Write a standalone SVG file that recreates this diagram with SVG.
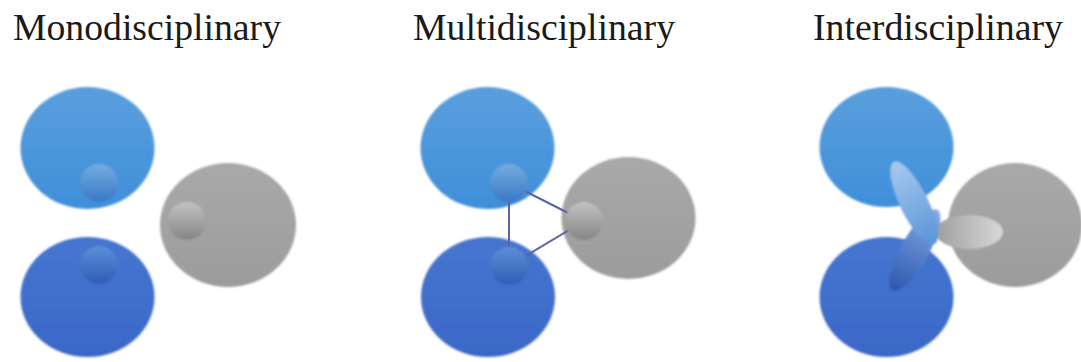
<svg xmlns="http://www.w3.org/2000/svg" width="1081" height="362" viewBox="0 0 1081 362">
  <style>
    .title { font-family: "Liberation Serif", "DejaVu Serif", serif; font-size: 38px; fill: #1a1a1a; }
    .soft { filter: url(#soften); }
    .link { stroke: #5b63a6; stroke-width: 2; fill: none; }
  </style>
  <defs>
    <filter id="soften" x="-10%" y="-10%" width="120%" height="120%">
      <feGaussianBlur stdDeviation="1"/>
    </filter>
    <linearGradient id="gLight" x1="0" y1="0" x2="0" y2="1">
      <stop offset="0" stop-color="#5a9fdd"/>
      <stop offset="1" stop-color="#3f8fd9"/>
    </linearGradient>
    <linearGradient id="gDark" x1="0" y1="0" x2="0" y2="1">
      <stop offset="0" stop-color="#4676cf"/>
      <stop offset="1" stop-color="#3a68c8"/>
    </linearGradient>
    <linearGradient id="gGray" x1="0" y1="0" x2="0" y2="1">
      <stop offset="0" stop-color="#a9a9a9"/>
      <stop offset="1" stop-color="#9c9c9c"/>
    </linearGradient>
    <linearGradient id="sLight" x1="0" y1="0" x2="0" y2="1">
      <stop offset="0" stop-color="#74ade2"/>
      <stop offset="1" stop-color="#3a78c4"/>
    </linearGradient>
    <linearGradient id="sDark" x1="0" y1="0" x2="0" y2="1">
      <stop offset="0" stop-color="#5c8fd8"/>
      <stop offset="1" stop-color="#2f5db5"/>
    </linearGradient>
    <linearGradient id="sGray" x1="0" y1="0" x2="0" y2="1">
      <stop offset="0" stop-color="#c2c2c2"/>
      <stop offset="1" stop-color="#858585"/>
    </linearGradient>
    <linearGradient id="pUpper" x1="0" y1="0" x2="1" y2="0">
      <stop offset="0" stop-color="#a8c9ed"/>
      <stop offset="1" stop-color="#5894da"/>
    </linearGradient>
    <linearGradient id="pLower" x1="0" y1="0" x2="1" y2="0">
      <stop offset="0" stop-color="#2c57ae"/>
      <stop offset="1" stop-color="#86ace6"/>
    </linearGradient>
    <linearGradient id="pGray" x1="0" y1="0" x2="1" y2="0">
      <stop offset="0" stop-color="#9e9e9e"/>
      <stop offset="1" stop-color="#d8d8d8"/>
    </linearGradient>
  </defs>

  <!-- titles -->
  <g id="title-mono"><text class="title" x="13" y="40" textLength="268" lengthAdjust="spacingAndGlyphs">Monodisciplinary</text></g>
  <g id="title-multi"><text class="title" x="413" y="40" textLength="262" lengthAdjust="spacingAndGlyphs">Multidisciplinary</text></g>
  <g id="title-inter"><text class="title" x="813" y="40" textLength="250" lengthAdjust="spacingAndGlyphs">Interdisciplinary</text></g>

  <!-- Monodisciplinary: three separate fields -->
  <g id="mono-top" class="soft">
    <ellipse cx="87.5" cy="148" rx="67" ry="61" fill="url(#gLight)"/>
    <circle cx="99" cy="183" r="19" fill="url(#sLight)"/>
  </g>
  <g id="mono-gray" class="soft">
    <ellipse cx="228" cy="225" rx="68" ry="62" fill="url(#gGray)"/>
    <circle cx="187" cy="221" r="19" fill="url(#sGray)"/>
  </g>
  <g id="mono-bottom" class="soft">
    <ellipse cx="87.5" cy="297" rx="67" ry="60" fill="url(#gDark)"/>
    <circle cx="99" cy="265" r="19" fill="url(#sDark)"/>
  </g>

  <!-- Multidisciplinary: fields linked -->
  <g id="multi-top" class="soft">
    <ellipse cx="487.5" cy="148" rx="67" ry="61" fill="url(#gLight)"/>
  </g>
  <g id="multi-gray" class="soft">
    <ellipse cx="628.5" cy="218" rx="67" ry="61" fill="url(#gGray)"/>
  </g>
  <g id="multi-bottom" class="soft">
    <ellipse cx="488" cy="297" rx="67" ry="60" fill="url(#gDark)"/>
  </g>
  <g id="connectors">
    <line class="link" x1="509" y1="183" x2="509" y2="266"/>
    <line class="link" x1="509" y1="183" x2="584" y2="221"/>
    <line class="link" x1="509" y1="266" x2="584" y2="221"/>
  </g>
  <g id="multi-spheres" class="soft">
    <circle cx="509" cy="183" r="19" fill="url(#sLight)"/>
    <circle cx="584" cy="221" r="19" fill="url(#sGray)"/>
    <circle cx="509" cy="266" r="19" fill="url(#sDark)"/>
  </g>

  <!-- Interdisciplinary: fields merged -->
  <g id="inter-top" class="soft">
    <ellipse cx="886.5" cy="147" rx="67" ry="60" fill="url(#gLight)"/>
  </g>
  <g id="inter-gray" class="soft">
    <ellipse cx="1015" cy="225" rx="67" ry="62" fill="url(#gGray)"/>
  </g>
  <g id="inter-bottom" class="soft">
    <ellipse cx="886.5" cy="297" rx="67" ry="60" fill="url(#gDark)"/>
  </g>
  <g id="inter-bridge" class="soft">
    <ellipse cx="969" cy="232" rx="34" ry="17" fill="url(#pGray)"/>
    <ellipse cx="0" cy="0" rx="46" ry="14" fill="url(#pLower)" transform="translate(915 250) rotate(-61)"/>
    <ellipse cx="0" cy="0" rx="46" ry="14" fill="url(#pUpper)" transform="translate(914 203) rotate(64)"/>
  </g>
</svg>
